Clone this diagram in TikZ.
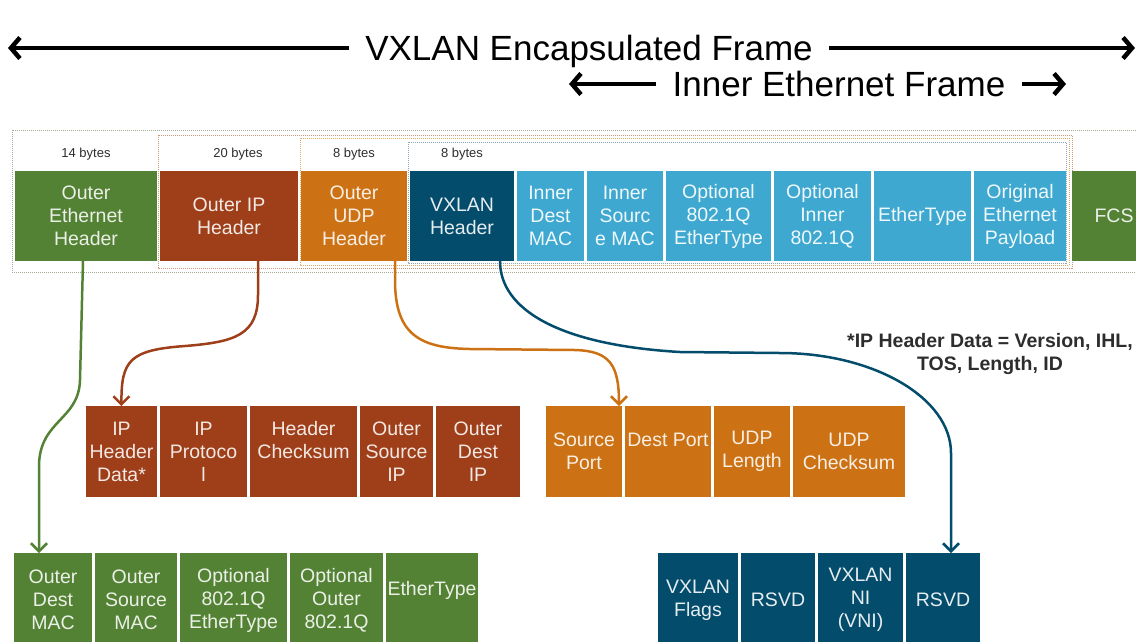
\documentclass[tikz,border=0pt]{standalone}
\usepackage{fontspec}
\setmainfont{Liberation Sans}
\usepackage{tikz}
\usetikzlibrary{positioning,arrows.meta}
\definecolor{ethgreen}{RGB}{84,130,53}
\definecolor{ipbrown}{RGB}{158,63,26}
\definecolor{udporange}{RGB}{204,114,20}
\definecolor{vxblue}{RGB}{3,76,107}
\definecolor{innerblue}{RGB}{62,168,208}
\definecolor{notegray}{RGB}{45,45,45}
\definecolor{framegray}{RGB}{160,172,150}
\definecolor{framebrown}{RGB}{205,150,120}
\definecolor{frameorange}{RGB}{225,172,100}
\definecolor{frameblue}{RGB}{140,165,185}
\newcommand{\cellfont}{\fontsize{19.5}{23}\selectfont}
\newcommand{\bigfont}{\fontsize{35}{40}\selectfont}
\tikzstyle{cell}=[rectangle, inner sep=0pt, outer sep=0pt, align=center, font=\cellfont]
\tikzstyle{hdr}=[cell, minimum height=90pt]
\tikzstyle{fld}=[cell, minimum height=91pt]
\tikzstyle{ethcell}=[fill=ethgreen, text=white!88!ethgreen]
\tikzstyle{ipcell}=[fill=ipbrown, text=white!88!ipbrown]
\tikzstyle{udpcell}=[fill=udporange, text=white!88!udporange]
\tikzstyle{vxcell}=[fill=vxblue, text=white!90!vxblue]
\tikzstyle{innercell}=[fill=innerblue, text=white!92!innerblue]
\tikzstyle{bytes}=[font=\fontsize{13}{15}\selectfont, text=notegray, inner sep=0pt]
\tikzstyle{frameline}=[line width=1pt, densely dotted]
\tikzstyle{link}=[line width=2.5pt, -{Straight Barb[length=8pt,width=16pt]}]
\tikzstyle{bigarrow}=[line width=4.5pt, -{Straight Barb[length=9pt,width=21pt]}]

\begin{document}
\begin{tikzpicture}[x=1pt,y=1pt]
\useasboundingbox (0,0) rectangle (1136,-641);

% titles
\node[font=\bigfont, inner xsep=16pt] (vxtitle) at (589,-51) {VXLAN Encapsulated Frame};
\coordinate (vxl) at (8,-48);
\coordinate (vxr) at (1135,-48);
\draw[bigarrow] (vxtitle.west |- vxl) -- (vxl);
\draw[bigarrow] (vxtitle.east |- vxr) -- (vxr);

\node[font=\bigfont, inner xsep=16pt] (ethtitle) at (839,-84) {Inner Ethernet Frame};
\coordinate (ethl) at (569,-84);
\coordinate (ethr) at (1066,-84);
\draw[bigarrow] (ethtitle.west |- ethl) -- (ethl);
\draw[bigarrow] (ethtitle.east |- ethr) -- (ethr);

% dotted frames
\draw[frameline, framegray] (12,-130) rectangle (1150,-272);
\draw[frameline, framebrown] (158,-135) rectangle (1072,-268);
\draw[frameline, frameorange] (300,-138) rectangle (1069,-265);
\draw[frameline, frameblue] (408,-142) rectangle (1066,-263);

% encapsulated frame
\node[hdr, ethcell, minimum width=142pt, anchor=north west] (oeh) at (15,-171) {Outer\\Ethernet\\Header};
\node[hdr, ipcell, minimum width=138pt, right=3pt of oeh] (oip) {Outer IP\\Header};
\node[hdr, udpcell, minimum width=106pt, right=3pt of oip] (oudp) {Outer\\UDP\\Header};
\node[hdr, vxcell, minimum width=104pt, right=3pt of oudp] (vxh) {VXLAN\\Header};
\node[hdr, innercell, minimum width=67pt, right=3pt of vxh] (idmac) {Inner\\Dest\\MAC};
\node[hdr, innercell, minimum width=76pt, right=3pt of idmac] (ismac) {Inner\\Sourc\\e MAC};
\node[hdr, innercell, minimum width=105pt, right=3pt of ismac] (iopt) {Optional\\802.1Q\\EtherType};
\node[hdr, innercell, minimum width=97pt, right=3pt of iopt] (iinner) {Optional\\Inner\\802.1Q};
\node[hdr, innercell, minimum width=97pt, right=3pt of iinner] (iet) {EtherType};
\node[hdr, innercell, minimum width=92pt, right=3pt of iet] (ipay) {Original\\Ethernet\\Payload};
\node[hdr, ethcell, minimum width=84pt, right=6pt of ipay] (fcs) {FCS};

\node[bytes, above=11pt of oeh] (b14) {14 bytes};
\node[bytes, above=11pt of oip, xshift=9pt] (b20) {20 bytes};
\node[bytes, above=11pt of oudp] (b8udp) {8 bytes};
\node[bytes, above=11pt of vxh] (b8vx) {8 bytes};

% outer IP header
\node[fld, ipcell, minimum width=71pt, anchor=north west] (iphd) at (86,-406) {IP\\Header\\Data*};
\node[fld, ipcell, minimum width=87pt, right=3pt of iphd] (ipproto) {IP\\Protoco\\l};
\node[fld, ipcell, minimum width=107pt, right=3pt of ipproto] (iphc) {Header\\Checksum\\\mbox{}};
\node[fld, ipcell, minimum width=73pt, right=3pt of iphc] (ipsrc) {Outer\\Source\\IP};
\node[fld, ipcell, minimum width=84pt, right=3pt of ipsrc] (ipdst) {Outer\\Dest\\IP};

% outer UDP header
\node[fld, udpcell, minimum width=76pt, anchor=north west] (srcport) at (546,-406) {Source\\Port};
\node[fld, udpcell, minimum width=86pt, right=3pt of srcport] (dstport) {Dest Port\\\mbox{}};
\node[fld, udpcell, minimum width=76pt, right=3pt of dstport] (udplen) {UDP\\Length};
\node[fld, udpcell, minimum width=112pt, right=3pt of udplen] (udpcs) {UDP\\Checksum};

% outer ethernet header
\node[cell, ethcell, minimum height=94pt, minimum width=78pt, anchor=north west] (odmac) at (14,-553) {Outer\\Dest\\MAC};
\node[cell, ethcell, minimum height=94pt, minimum width=82pt, right=3pt of odmac] (osmac) {Outer\\Source\\MAC};
\node[cell, ethcell, minimum height=94pt, minimum width=107pt, right=3pt of osmac] (oopt) {Optional\\802.1Q\\EtherType};
\node[cell, ethcell, minimum height=94pt, minimum width=93pt, right=3pt of oopt] (oouter) {Optional\\Outer\\802.1Q};
\node[cell, ethcell, minimum height=94pt, minimum width=92pt, right=3pt of oouter] (oet) {EtherType\\\mbox{}};

% VXLAN header
\node[cell, vxcell, minimum height=94pt, minimum width=80pt, anchor=north west] (vflags) at (658,-553) {VXLAN\\Flags};
\node[cell, vxcell, minimum height=94pt, minimum width=74pt, right=3pt of vflags] (vrsvd1) {RSVD};
\node[cell, vxcell, minimum height=94pt, minimum width=85pt, right=3pt of vrsvd1] (vni) {VXLAN\\NI\\(VNI)};
\node[cell, vxcell, minimum height=94pt, minimum width=74pt, right=3pt of vni] (vrsvd2) {RSVD};

\node[font=\bfseries\fontsize{19.5}{23.5}\selectfont, text=notegray, align=center] (note) at (990,-354) {*IP Header Data = Version, IHL,\\TOS, Length, ID};

% links
\draw[link, ethgreen] ([xshift=-3pt]oeh.south) -- (80,-380) .. controls (79,-420) and (40,-420) .. (39,-465) -- ([xshift=-14pt]odmac.north);
\draw[link, ipbrown] ([xshift=29pt]oip.south) -- (258,-295) .. controls (258,-335) and (235,-342) .. (185,-346) .. controls (130,-350) and (121,-360) .. (iphd.north);
\draw[link, udporange] ([xshift=41pt]oudp.south) -- (395,-280) .. controls (395,-335) and (420,-348) .. (470,-349) -- (575,-350) .. controls (610,-351) and (619,-365) .. ([xshift=-3pt]srcport.north east);
\draw[link, vxblue] ([xshift=38pt]vxh.south) .. controls (500,-310) and (560,-345) .. (680,-352) -- (780,-353) .. controls (874,-353) and (951,-398) .. (951,-453) -- ([xshift=8pt]vrsvd2.north);
\end{tikzpicture}
\end{document}
